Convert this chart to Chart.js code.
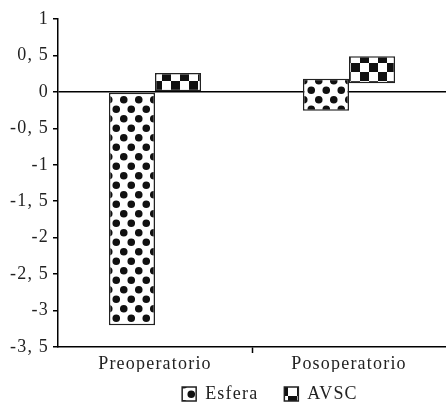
<!DOCTYPE html>
<html>
<head>
<meta charset="utf-8">
<script src="https://cdn.jsdelivr.net/npm/chart.js@4/dist/chart.umd.min.js"></script>
<style>
  html, body { margin: 0; padding: 0; background: #fff; }
  #wrap { width: 446px; height: 406px; }
</style>
</head>
<body>
<div id="wrap"><canvas id="grafico"></canvas></div>
<script>
// datos
const categorias = ['Preoperatorio', 'Posoperatorio'];
const esferaMin = [-3.2, -0.26];
const esferaMax = [0, 0.18];
const avscMin = [0, 0.12];
const avscMax = [0.26, 0.49];
const yMin = -3.5;
const yMax = 1;
const yPaso = 0.5;

// tramas de relleno
function tramaPuntos() {
    const c = document.createElement('canvas');
    c.width = 15; c.height = 19;
    const g = c.getContext('2d');
    g.fillStyle = '#fff';
    g.fillRect(0, 0, 15, 19);
    g.fillStyle = '#111';
    [[3.75, 4.75], [11.25, 14.25]].forEach(p => {
        g.beginPath();
        g.arc(p[0], p[1], 3.8, 0, Math.PI * 2);
        g.fill();
    });
    return g.createPattern(c, 'repeat');
}

function tramaDamero() {
    const c = document.createElement('canvas');
    c.width = 18; c.height = 18;
    const g = c.getContext('2d');
    g.fillStyle = '#fff';
    g.fillRect(0, 0, 18, 18);
    g.fillStyle = '#111';
    g.fillRect(0, 0, 9, 9);
    g.fillRect(9, 9, 9, 9);
    return g.createPattern(c, 'repeat');
}

function rango(a, b) {
    return a.map((v, i) => [v, b[i]]);
}

// espaciado de letras y posición de la leyenda como en el original
const espaciado = {
    id: 'espaciado',
    beforeLayout(chart) {
        chart.ctx.letterSpacing = '1.2px';
        const lg = chart.legend;
        if (lg && !lg._alto) {
            const fit = lg.fit.bind(lg);
            lg.fit = function () { fit(); this.height = 34; };
            lg._alto = true;
        }
    },
    beforeDraw(chart) { chart.ctx.letterSpacing = '1.2px'; },
    afterLayout(chart) {
        chart.legend.left += 94;
        chart.legend.top -= 13;
    }
};

const fuente = { family: '"Liberation Serif", "DejaVu Serif", serif', size: 18 };

const ctx = document.getElementById('grafico').getContext('2d');
new Chart(ctx, {
    type: 'bar',
    data: {
        labels: categorias,
        datasets: [{
            label: 'Esfera',
            data: rango(esferaMin, esferaMax),
            backgroundColor: tramaPuntos(),
            borderColor: '#222',
            borderWidth: 1.5,
            borderSkipped: false
        }, {
            label: 'AVSC',
            data: rango(avscMin, avscMax),
            backgroundColor: tramaDamero(),
            borderColor: '#222',
            borderWidth: 1.5,
            borderSkipped: false
        }]
    },
    options: {
        responsive: true,
        maintainAspectRatio: false,
        animation: false,
        datasets: {
            bar: { categoryPercentage: 0.475, barPercentage: 1 }
        },
        layout: { padding: { top: 19, right: 0, left: 0, bottom: 0 } },
        plugins: {
            tooltip: { enabled: false },
            legend: {
                position: 'bottom',
                labels: {
                    color: '#222',
                    font: fuente,
                    boxWidth: 14,
                    boxHeight: 14,
                    padding: 26
                }
            }
        },
        scales: {
            x: {
                grid: {
                    color: 'transparent',
                    tickColor: c => c.index === 1 ? '#000' : 'transparent',
                    tickLength: 6,
                    tickWidth: 1.5
                },
                border: { color: '#000', width: 1.5 },
                ticks: { color: '#222', font: fuente, padding: 0 },
                afterFit(scale) { scale.height = 25; }
            },
            y: {
                min: yMin,
                max: yMax,
                grid: {
                    color: c => c.tick && c.tick.value === 0 ? '#000' : 'transparent',
                    lineWidth: 1.5,
                    tickColor: '#000',
                    tickLength: 5,
                    tickWidth: 1.5
                },
                border: { color: '#000', width: 1.5 },
                ticks: {
                    stepSize: yPaso,
                    color: '#222',
                    font: fuente,
                    padding: 4,
                    callback: v => Number.isInteger(v) ? String(v) : String(v).replace('.', ', ')
                },
                afterFit(scale) { scale.width = 58; }
            }
        }
    },
    plugins: [espaciado]
});
</script>
</body>
</html>
